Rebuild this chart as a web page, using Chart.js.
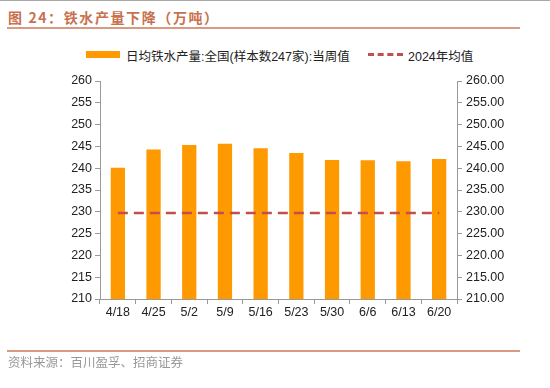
<!DOCTYPE html>
<html>
<head>
<meta charset="utf-8">
<script src="https://cdn.jsdelivr.net/npm/chart.js@4"></script>
<style>
  body { margin: 0; width: 550px; height: 388px; position: relative; background: #fff; overflow: hidden;
         font-family: "Liberation Sans", "Noto Sans CJK SC", sans-serif; }
  #topline { position: absolute; left: 0; top: 0; width: 550px; height: 1px; background: #aaa; }
  #title { position: absolute; left: 8px; top: 7px; font-size: 14px; font-weight: bold; color: #c8714e;
           font-family: "Noto Sans CJK SC", sans-serif; letter-spacing: 1.6px; }
  .rule { position: absolute; left: 7px; width: 513px; height: 2px; background: #d99a82; }
  #source { position: absolute; left: 8px; top: 352px; font-size: 12.5px; color: #999;
            font-family: "Noto Sans CJK SC", sans-serif; }
  #legend { position: absolute; top: 46px; left: 0; width: 550px; height: 18px; font-size: 12.5px; color: #222; }
  .sw-bar { position: absolute; left: 86px; top: 5px; width: 34px; height: 7px; background: #ff9900; }
  .sw-dash { position: absolute; left: 368px; top: 7px; width: 35px; height: 0; border-top: 3px dashed #c0504d; }
  .lt { position: absolute; top: 0; white-space: nowrap; }
  #wrap { position: absolute; left: 0; top: 0; width: 550px; height: 388px; }
</style>
</head>
<body>
<div id="topline"></div>
<div id="title">图 24：铁水产量下降（万吨）</div>
<div class="rule" style="top:27px"></div>
<div id="legend">
  <div class="sw-bar"></div><span class="lt" style="left:126px">日均铁水产量:全国(样本数247家):当周值</span>
  <div class="sw-dash"></div><span class="lt" style="left:408px">2024年均值</span>
</div>
<div id="wrap"><canvas id="ironChart"></canvas></div>
<div class="rule" style="top:350px"></div>
<div id="source">资料来源：百川盈孚、招商证券</div>
<script>
// weekly hot metal output vs 2024 average
const weeks = ['4/18', '4/25', '5/2', '5/9', '5/16', '5/23', '5/30', '6/6', '6/13', '6/20'];
const weeklyOutput = [240.1, 244.3, 245.3, 245.6, 244.6, 243.5, 241.9, 241.8, 241.6, 242.1];
const avg2024 = [229.7, 229.7, 229.7, 229.7, 229.7, 229.7, 229.7, 229.7, 229.7, 229.7];
const yMin = 210, yMax = 260, yStep = 5;

const axisGray = '#999';
const tickFont = { family: 'Liberation Sans', size: 12.5 };

new Chart(document.getElementById('ironChart'), {
    type: 'bar',
    data: {
        labels: weeks,
        datasets: [
            {
                type: 'line',
                label: '2024年均值',
                data: avg2024,
                borderColor: '#c0504d',
                borderWidth: 2.5,
                borderDash: [10, 6],
                pointRadius: 0,
                fill: false,
                yAxisID: 'y',
                order: 0
            },
            {
                label: '日均铁水产量:全国(样本数247家):当周值',
                data: weeklyOutput,
                backgroundColor: '#ff9900',
                barPercentage: 0.4,
                categoryPercentage: 1,
                yAxisID: 'y',
                order: 1
            }
        ]
    },
    options: {
        responsive: true,
        maintainAspectRatio: false,
        animation: false,
        layout: { padding: { left: 0, right: 0, top: 81, bottom: 67 } },
        plugins: { legend: { display: false }, tooltip: { enabled: false } },
        scales: {
            x: {
                offset: true,
                grid: { offset: true, drawOnChartArea: false, drawTicks: true, tickLength: 5, color: axisGray },
                border: { display: true, color: axisGray },
                ticks: { color: '#222', font: tickFont, maxRotation: 0, autoSkip: false, padding: 1 }
            },
            y: {
                position: 'left',
                min: yMin, max: yMax,
                afterFit: function(axis) { axis.width = 100; },
                grid: { drawOnChartArea: false, drawTicks: true, tickLength: 5, color: axisGray },
                border: { display: true, color: axisGray },
                ticks: { stepSize: yStep, color: '#222', font: tickFont, padding: 3 }
            },
            y1: {
                position: 'right',
                min: yMin, max: yMax,
                afterFit: function(axis) { axis.width = 93; },
                grid: { drawOnChartArea: false, drawTicks: true, tickLength: 5, color: axisGray },
                border: { display: true, color: axisGray },
                ticks: { stepSize: yStep, color: '#222', font: tickFont, padding: 4,
                         callback: v => v.toFixed(2) }
            }
        }
    }
});
</script>
</body>
</html>
